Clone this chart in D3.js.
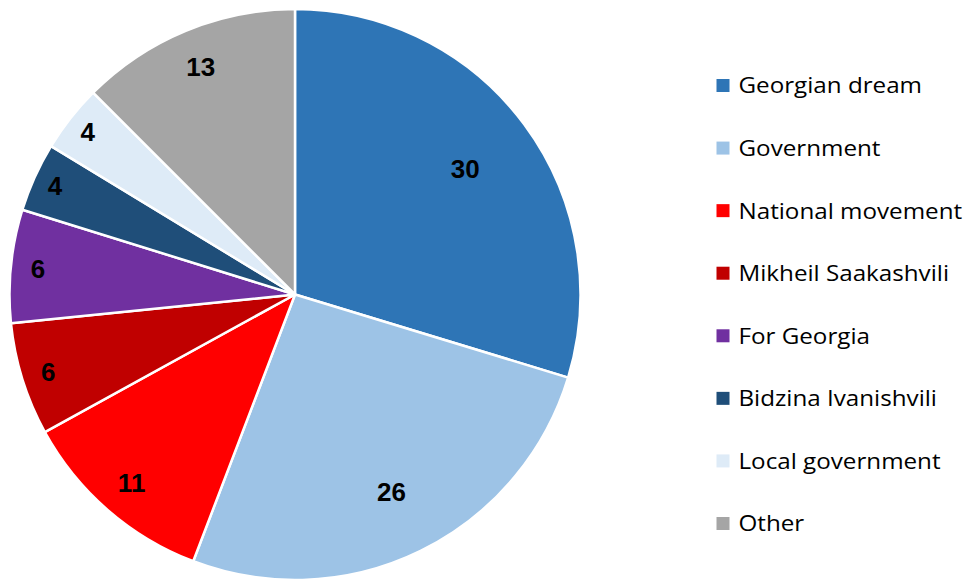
<!DOCTYPE html>
<html>
<head>
<meta charset="utf-8">
<script src="https://cdn.jsdelivr.net/npm/d3@7"></script>
<style>
  body { margin: 0; background: #fff; }
  svg { display: block; }
</style>
</head>
<body>
<div id="container"></div>
<script>
// chart data (shares in %, labels shown rounded)
var categories = ['Georgian dream', 'Government', 'National movement', 'Mikheil Saakashvili',
                  'For Georgia', 'Bidzina Ivanishvili', 'Local government', 'Other'];
var values = [29.7, 26.1, 11.2, 6.4, 6.4, 3.9, 3.8, 12.5];
var colors = ['#2E75B6', '#9DC3E6', '#FF0000', '#C00000', '#7030A0', '#1F4E79', '#DEEBF7', '#A5A5A5'];

var width = 969, height = 580;
var cx = 295, cy = 294.5, radius = 285.5;

var svg = d3.select('#container')
    .append('svg')
    .attr('width', width)
    .attr('height', height);

var pie = d3.pie().sort(null).value(function(d){ return d; });
var arcs = pie(values);
var arc = d3.arc().innerRadius(0).outerRadius(radius);

var g = svg.append('g').attr('transform', 'translate(' + cx + ',' + cy + ')');

g.selectAll('path.slice')
    .data(arcs)
    .enter().append('path')
    .attr('class', 'slice')
    .attr('d', arc)
    .attr('fill', function(d, i){ return colors[i]; })
    .attr('stroke', '#fff')
    .attr('stroke-width', 2.5)
    .attr('stroke-linejoin', 'round');

// labels sit closer to the rim for thin slices
g.selectAll('text.lbl')
    .data(arcs)
    .enter().append('text')
    .attr('class', 'lbl')
    .attr('transform', function(d){
        var r = radius * (0.95 - 0.007 * d.value);
        var a = (d.startAngle + d.endAngle) / 2;
        return 'translate(' + (r * Math.sin(a)) + ',' + (-r * Math.cos(a)) + ')';
    })
    .attr('text-anchor', 'middle')
    .attr('dy', '0.36em')
    .attr('font-family', '"Liberation Sans", Arial, sans-serif')
    .attr('font-size', 26)
    .attr('font-weight', 'bold')
    .attr('fill', '#000')
    .text(function(d){ return Math.round(d.value); });

// legend
var legendY = d3.scalePoint().domain(categories).range([85.5, 523.5]);
var legend = svg.append('g');
var items = legend.selectAll('g')
    .data(categories)
    .enter().append('g')
    .attr('transform', function(d){ return 'translate(716.5,' + legendY(d) + ')'; });
items.append('rect')
    .attr('x', 0).attr('y', -6.5)
    .attr('width', 13).attr('height', 13)
    .attr('fill', function(d, i){ return colors[i]; });
items.append('text')
    .attr('transform', 'translate(22,0) scale(1.1,1)')
    .attr('dy', '0.36em')
    .attr('font-family', '"Open Sans", sans-serif')
    .attr('font-size', 22)
    .attr('fill', '#000')
    .text(function(d){ return d; });
</script>
</body>
</html>
